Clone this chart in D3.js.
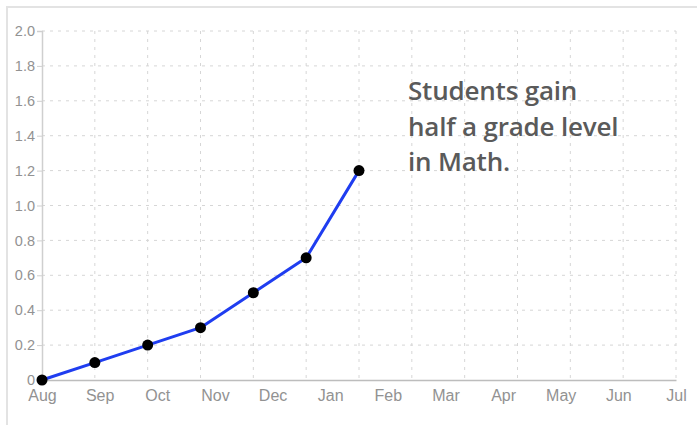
<!DOCTYPE html>
<html>
<head>
<meta charset="utf-8">
<style>
  body { margin: 0; background: #fff; }
  svg { display: block; }
</style>
</head>
<body>
<svg width="697" height="425"></svg>
<script src="https://d3js.org/d3.v7.min.js"></script>
<script>

var months = ["Aug", "Sep", "Oct", "Nov", "Dec", "Jan", "Feb", "Mar", "Apr", "May", "Jun", "Jul"];
var gains = [0, 0.1, 0.2, 0.3, 0.5, 0.7, 1.2];   // Aug .. Feb
var yTicks = [0, 0.2, 0.4, 0.6, 0.8, 1.0, 1.2, 1.4, 1.6, 1.8, 2.0];
var note = ["Students gain", "half a grade level", "in Math."];

var svg = d3.select("svg"),
    margin = {top: 31, right: 21, bottom: 45, left: 42},
    width = +svg.attr("width") - margin.left - margin.right,
    height = +svg.attr("height") - margin.top - margin.bottom;

// outer frame (top + left edges visible)
svg.append("path")
  .attr("d", "M7,425V7H697")
  .attr("fill", "none")
  .attr("stroke", "#e3e3e3")
  .attr("stroke-width", 2);

var g = svg.append("g").attr("transform", "translate(" + margin.left + "," + margin.top + ")");

// grid runs over 12 monthly steps, labels spread over the full width
var x = d3.scaleLinear().domain([0, 12]).range([0, width]);
var xLab = d3.scalePoint().domain(months).range([0, width]);
var y = d3.scaleLinear().domain([0, 2]).range([height, 0]);

// grid
g.append("g")
  .selectAll("line.v")
  .data(d3.range(1, 13))
  .enter().append("line")
  .attr("x1", function(d) { return x(d); })
  .attr("x2", function(d) { return x(d); })
  .attr("y1", 0)
  .attr("y2", height)
  .attr("stroke", "#d6d6d6")
  .attr("stroke-dasharray", "3,5");

g.append("g")
  .selectAll("line.h")
  .data(yTicks.slice(1))
  .enter().append("line")
  .attr("x1", 0)
  .attr("x2", width)
  .attr("y1", function(d) { return y(d); })
  .attr("y2", function(d) { return y(d); })
  .attr("stroke", "#d6d6d6")
  .attr("stroke-dasharray", "3,5");

// y axis
var yAxis = g.append("g")
  .call(d3.axisLeft(y).tickValues(yTicks).tickSize(5).tickPadding(2)
    .tickFormat(function(d) { return d === 0 ? "0" : d3.format(".1f")(d); }));
yAxis.select(".domain").attr("stroke", "#cfcfcf").attr("stroke-width", 1.5);
yAxis.selectAll(".tick line").attr("stroke", "#cfcfcf");
yAxis.selectAll("text")
  .attr("fill", "#929292")
  .style("font", "14.5px 'Liberation Sans', Arial, sans-serif");

// x axis
var xAxis = g.append("g")
  .attr("transform", "translate(0," + height + ")")
  .call(d3.axisBottom(xLab).tickSize(0).tickPadding(10));
xAxis.select(".domain").attr("stroke", "#bdbdbd").attr("stroke-width", 1.5);
xAxis.selectAll("text")
  .attr("fill", "#929292")
  .style("font", "16px 'Liberation Sans', Arial, sans-serif");

// line + points
var line = d3.line()
  .x(function(d, i) { return x(i); })
  .y(function(d) { return y(d); });

g.append("path")
  .datum(gains)
  .attr("fill", "none")
  .attr("stroke", "#1f3df0")
  .attr("stroke-width", 3)
  .attr("stroke-linejoin", "round")
  .attr("d", line);

g.selectAll("circle")
  .data(gains)
  .enter().append("circle")
  .attr("cx", function(d, i) { return x(i); })
  .attr("cy", function(d) { return y(d); })
  .attr("r", 5.5)
  .attr("fill", "#000");

// annotation
svg.append("text")
  .attr("x", 408)
  .attr("y", 100)
  .attr("fill", "#5a5a5a")
  .style("font", "600 26px 'Open Sans', sans-serif")
  .style("letter-spacing", "-0.2px")
  .selectAll("tspan")
  .data(note)
  .enter().append("tspan")
  .attr("x", 408)
  .attr("dy", function(d, i) { return i ? 35.5 : 0; })
  .text(function(d) { return d; });

</script>
</body>
</html>
